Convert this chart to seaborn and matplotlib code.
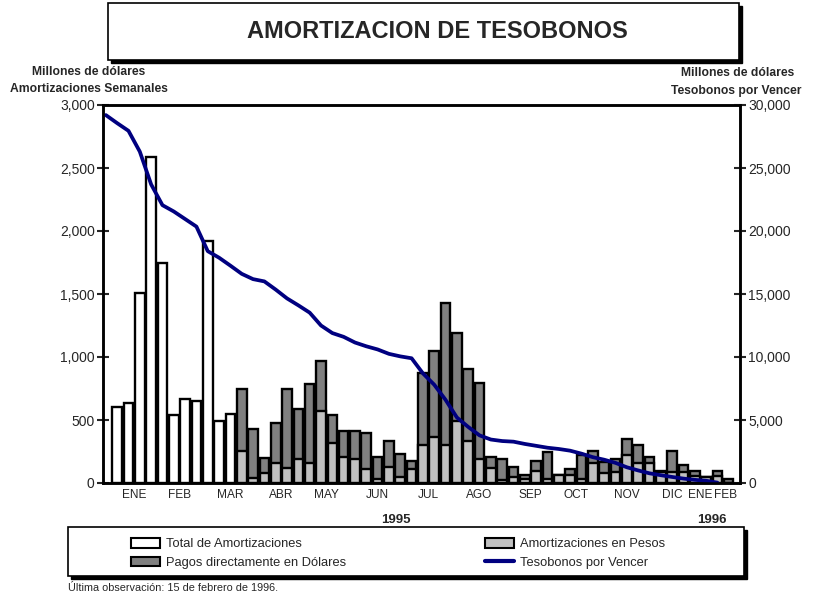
import numpy as np
import pandas as pd
import matplotlib
matplotlib.use("Agg")
import matplotlib.pyplot as plt
import seaborn as sns
from matplotlib.patches import Patch, Rectangle
from matplotlib.lines import Line2D
from matplotlib.ticker import FuncFormatter

# ── Datos (millones de dólares) ──────────────────────────────
# semanas ene-mar 1995: solo total
total_inicial = [605, 637, 1510, 2590, 1748, 540, 667, 651, 1923, 494, 548]
# semanas siguientes: total y parte en pesos
total_mixto = [746, 429, 196, 479, 746, 587, 783, 970, 540, 415,
               415, 400, 209, 336, 228, 175, 876, 1050, 1431, 1193,
               905, 796, 209, 190, 130, 60, 177, 250, 60, 110,
               222, 257, 170, 190, 350, 300, 210, 98, 257, 143,
               98, 50, 98, 35]
pesos = [257, 37, 82, 157, 116, 190, 157, 571, 315, 204,
         190, 111, 32, 130, 50, 111, 302, 368, 302, 492,
         336, 188, 120, 25, 45, 35, 95, 30, 60, 60,
         30, 157, 77, 90, 222, 157, 160, 90, 90, 90,
         56, 45, 56, 0]
# saldo de tesobonos por vencer
tesobonos = [29200, 28560, 27950, 26300, 23700, 22050, 21550, 20950, 20350, 18400,
             17880, 17250, 16600, 16180, 16000, 15350, 14650, 14100, 13520, 12500,
             11900, 11600, 11150, 10850, 10600, 10250, 10050, 9900, 8700, 7800,
             6600, 5200, 4450, 3780, 3450, 3330, 3280, 3100, 2950, 2800,
             2700, 2565, 2330, 2050, 1850, 1600, 1250, 1000, 770, 620,
             480, 350, 250, 180, 30]
meses = ['ENE', 'FEB', 'MAR', 'ABR', 'MAY', 'JUN', 'JUL', 'AGO', 'SEP',
         'OCT', 'NOV', 'DIC', 'ENE', 'FEB']
semanas_mes = [4, 4, 5, 4, 4, 5, 4, 5, 4, 4, 5, 3, 2, 2]

n_ini = len(total_inicial)
semana = np.arange(n_ini + len(total_mixto))
df = pd.DataFrame({'semana': semana,
                   'total': total_inicial + total_mixto,
                   'pesos': [np.nan] * n_ini + pesos})

sns.set_style("white")
plt.rcParams['font.family'] = ['Liberation Sans', 'DejaVu Sans']

W, H = 817, 596
fig = plt.figure(figsize=(W / 100, H / 100), dpi=100)
ax = fig.add_axes([103 / W, 1 - 483 / H, 637 / W, 378 / H])

BLACK = 'black'
bar_kw = dict(x='semana', native_scale=True, width=0.85, saturation=1,
              errorbar=None, edgecolor=BLACK, linewidth=1.7, ax=ax)
sns.barplot(data=df.iloc[:n_ini], y='total', color='white', **bar_kw)
sns.barplot(data=df.iloc[n_ini:], y='total', color='#808080', **bar_kw)
sns.barplot(data=df.iloc[n_ini:], y='pesos', color='#c0c0c0', **bar_kw)

ax.set_xlim(-1.25, 55.0)
ax.set_ylim(0, 3000)
ax.set_yticks(np.arange(0, 3001, 500))
ax.yaxis.set_major_formatter(FuncFormatter(lambda v, p: f"{v:,.0f}"))
ax.set_xlabel("")
ax.set_ylabel("")

# separadores de meses y etiquetas
limites = np.concatenate([[-0.5], -0.5 + np.cumsum(semanas_mes)[:-1]])
fines = np.concatenate([limites[1:], [55.0]])
centros = (limites + fines) / 2
ax.set_xticks(limites)
ax.set_xticklabels([])
ax.set_xticks(centros, minor=True)
ax.set_xticklabels(meses, minor=True)
ax.tick_params(axis='x', which='major', direction='out', length=7, width=1.5, color=BLACK)
ax.tick_params(axis='x', which='minor', length=0, pad=4, labelsize=8.6)
ax.tick_params(axis='y', direction='inout', length=8, width=1.5, labelsize=10, pad=2)

ax2 = ax.twinx()
sns.lineplot(x=semana - 1, y=tesobonos, color='#000080', linewidth=2.7, ax=ax2)
ax2.set_ylim(0, 30000)
ax2.set_yticks(np.arange(0, 30001, 5000))
ax2.yaxis.set_major_formatter(FuncFormatter(lambda v, p: f"{v:,.0f}"))
ax2.tick_params(axis='y', direction='inout', length=8, width=1.5, labelsize=10, pad=2)
ax2.set_ylabel("")

for a in (ax, ax2):
    for s in a.spines.values():
        s.set_visible(True)
        s.set_color(BLACK)
        s.set_linewidth(1.8)

# caja con sombra
def caja(x0, y0, x1, y1):
    off = 3
    fig.add_artist(Rectangle((x0 / W + off / W, 1 - y1 / H - off / H), (x1 - x0) / W, (y1 - y0) / H,
                             transform=fig.transFigure, facecolor=BLACK, edgecolor=BLACK, zorder=0))
    fig.add_artist(Rectangle((x0 / W, 1 - y1 / H), (x1 - x0) / W, (y1 - y0) / H,
                             transform=fig.transFigure, facecolor='white', edgecolor=BLACK,
                             linewidth=1.2, zorder=1))

caja(108, 3, 739, 60)
fig.text(437 / W, 1 - 31 / H, "AMORTIZACION DE TESOBONOS", ha='center', va='center',
         fontsize=17, fontweight='bold', zorder=2)

lab_kw = dict(ha='center', va='center', fontsize=8.7, fontweight='bold', zorder=4)
fig.text(89 / W, 1 - 72 / H, "Millones de dólares", **lab_kw)
fig.text(89 / W, 1 - 89 / H, "Amortizaciones Semanales", **lab_kw)
fig.text(738 / W, 1 - 73 / H, "Millones de dólares", **lab_kw)
fig.text(736 / W, 1 - 91 / H, "Tesobonos por Vencer", **lab_kw)

fig.text(396 / W, 1 - 520 / H, "1995", ha='center', va='center', fontsize=9.5, fontweight='bold')
fig.text(712 / W, 1 - 520 / H, "1996", ha='center', va='center', fontsize=9.5, fontweight='bold')

# leyenda
caja(68, 527, 744, 576)
h_izq = [Patch(facecolor='white', edgecolor=BLACK, linewidth=1.5, label='Total de Amortizaciones'),
         Patch(facecolor='#808080', edgecolor=BLACK, linewidth=1.5, label='Pagos directamente en Dólares')]
h_der = [Patch(facecolor='#c0c0c0', edgecolor=BLACK, linewidth=1.5, label='Amortizaciones en Pesos'),
         Line2D([], [], color='#000080', linewidth=3, label='Tesobonos por Vencer')]
for handles, x in ((h_izq, 126), (h_der, 480)):
    leg = fig.legend(handles=handles, loc='upper left', bbox_to_anchor=(x / W, 1 - 533 / H),
                     frameon=False, fontsize=9.3, handlelength=2.2, handleheight=0.75,
                     labelspacing=0.5, handletextpad=0.5, borderaxespad=0)
    leg.set_zorder(3)

fig.text(68 / W, 1 - 588 / H, "Última observación: 15 de febrero de 1996.", ha='left', va='center',
         fontsize=7.8)

fig.savefig("out.png", dpi=100)
